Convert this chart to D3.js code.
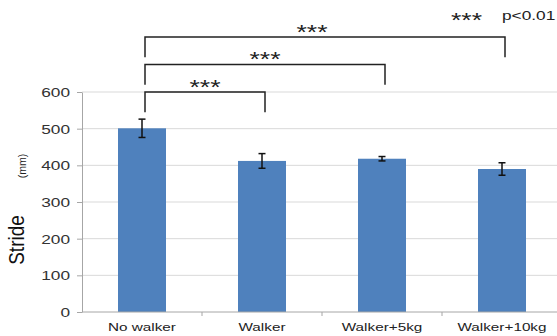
<!DOCTYPE html>
<html>
<head>
<meta charset="utf-8">
<script src="https://cdn.jsdelivr.net/npm/d3@7"></script>
<style>
  html, body { margin: 0; padding: 0; background: #fff; }
  svg { display: block; font-family: "Liberation Sans", Arial, sans-serif; }
</style>
</head>
<body>
<svg id="chart" width="557" height="336"></svg>
<script>
// Stride (mm) by walking condition, mean with error
const categories = ["No walker", "Walker", "Walker+5kg", "Walker+10kg"];
const strideMean = [501, 412, 418, 390];
const strideErr = [25, 20, 6, 17];
const yTicks = [0, 100, 200, 300, 400, 500, 600];

// Significance brackets: [from index, to index, bracket level (mm), label]
const bracketFrom = [0, 0, 0];
const bracketTo = [1, 2, 3];
const bracketLevel = [600, 675, 750];
const bracketLabel = ["***", "***", "***"];
const legendStars = "***";
const legendText = "p<0.01";

const SX = 1.33;          // horizontal stretch of the lettering
const svg = d3.select("#chart");

const y = d3.scaleLinear().domain([0, 600]).range([312, 92]);
const x = d3.scaleBand().domain(categories).range([82, 562])
  .paddingInner(0.6).paddingOuter(0.3);
const step = x.step();
const cx = c => x(c) + x.bandwidth() / 2;

// horizontal gridlines
svg.append("g").selectAll("line").data(yTicks.filter(d => d > 0)).join("line")
  .attr("x1", 82).attr("x2", 562)
  .attr("y1", d => y(d)).attr("y2", d => y(d))
  .attr("stroke", "#d9d9d9").attr("stroke-width", 1);

// y axis
const yAxis = svg.append("g").attr("transform", "translate(82,0)")
  .call(d3.axisLeft(y).tickValues(yTicks).tickSize(5).tickSizeOuter(0));
yAxis.select(".domain").attr("stroke", "#a6a6a6");
yAxis.selectAll(".tick line").attr("stroke", "#a6a6a6");
yAxis.selectAll(".tick text")
  .attr("x", 0).attr("dy", "0.35em")
  .attr("text-anchor", "end")
  .attr("transform", `translate(-12,0) scale(${SX},1)`)
  .attr("font-size", 13).attr("fill", "#333")
  .attr("font-family", "Liberation Sans, Arial, sans-serif");

// bars
svg.append("g").selectAll("rect").data(categories).join("rect")
  .attr("x", c => x(c))
  .attr("width", x.bandwidth())
  .attr("y", (c, i) => y(strideMean[i]))
  .attr("height", (c, i) => y(0) - y(strideMean[i]))
  .attr("fill", "#4f81bd");

// x axis baseline and category separators
svg.append("line").attr("x1", 82).attr("x2", 562)
  .attr("y1", y(0)).attr("y2", y(0)).attr("stroke", "#a6a6a6");
svg.append("g").selectAll("line").data(categories.slice(1)).join("line")
  .attr("x1", c => x(c) - step * 0.3).attr("x2", c => x(c) - step * 0.3)
  .attr("y1", y(0)).attr("y2", y(0) + 4)
  .attr("stroke", "#a6a6a6");

// category labels
svg.append("g").selectAll("text").data(categories).join("text")
  .attr("transform", c => `translate(${cx(c)},330.5) scale(${SX},1)`)
  .attr("text-anchor", "middle")
  .attr("font-size", 11.5).attr("fill", "#222")
  .text(c => c);

// error bars
const eb = svg.append("g").attr("stroke", "#111").attr("stroke-width", 1.5);
categories.forEach((c, i) => {
  const xc = cx(c), top = y(strideMean[i] + strideErr[i]), bot = y(strideMean[i] - strideErr[i]);
  eb.append("line").attr("x1", xc).attr("x2", xc).attr("y1", top).attr("y2", bot);
  eb.append("line").attr("x1", xc - 3.5).attr("x2", xc + 3.5).attr("y1", top).attr("y2", top);
  eb.append("line").attr("x1", xc - 3.5).attr("x2", xc + 3.5).attr("y1", bot).attr("y2", bot);
});

// significance brackets
const br = svg.append("g");
const legLen = 55;
const off = 3;
const labelShift = [0, 0, -13];
bracketFrom.forEach((f, i) => {
  const x1 = cx(categories[f]) + off, x2 = cx(categories[bracketTo[i]]) + off;
  const yl = y(bracketLevel[i]);
  br.append("path")
    .attr("d", `M${x1},${y(bracketLevel[i] - legLen)}V${yl}H${x2}V${y(bracketLevel[i] - legLen)}`)
    .attr("fill", "none").attr("stroke", "#222").attr("stroke-width", 1.5);
  br.append("text")
    .attr("transform", `translate(${(x1 + x2) / 2 + labelShift[i]},${yl + 1.5}) scale(${SX},1)`)
    .attr("text-anchor", "middle")
    .attr("font-size", 20).attr("fill", "#222")
    .text(bracketLabel[i]);
});

// legend
svg.append("text")
  .attr("transform", `translate(466.5,27) scale(${SX},1)`)
  .attr("text-anchor", "middle")
  .attr("font-size", 20).attr("fill", "#222")
  .text(legendStars);
svg.append("text")
  .attr("transform", `translate(502,20) scale(${SX},1)`)
  .attr("font-size", 13).attr("fill", "#222")
  .text(legendText);

// y axis title
svg.append("text")
  .attr("transform", `translate(23.5,240) scale(1.15,1) rotate(-90)`)
  .attr("text-anchor", "middle")
  .attr("font-size", 19).attr("fill", "#111")
  .text("Stride");
svg.append("text")
  .attr("transform", `translate(25.5,166) scale(1.1,1) rotate(-90)`)
  .attr("text-anchor", "middle")
  .attr("font-size", 10.5).attr("fill", "#222")
  .text("(mm)");
</script>
</body>
</html>
